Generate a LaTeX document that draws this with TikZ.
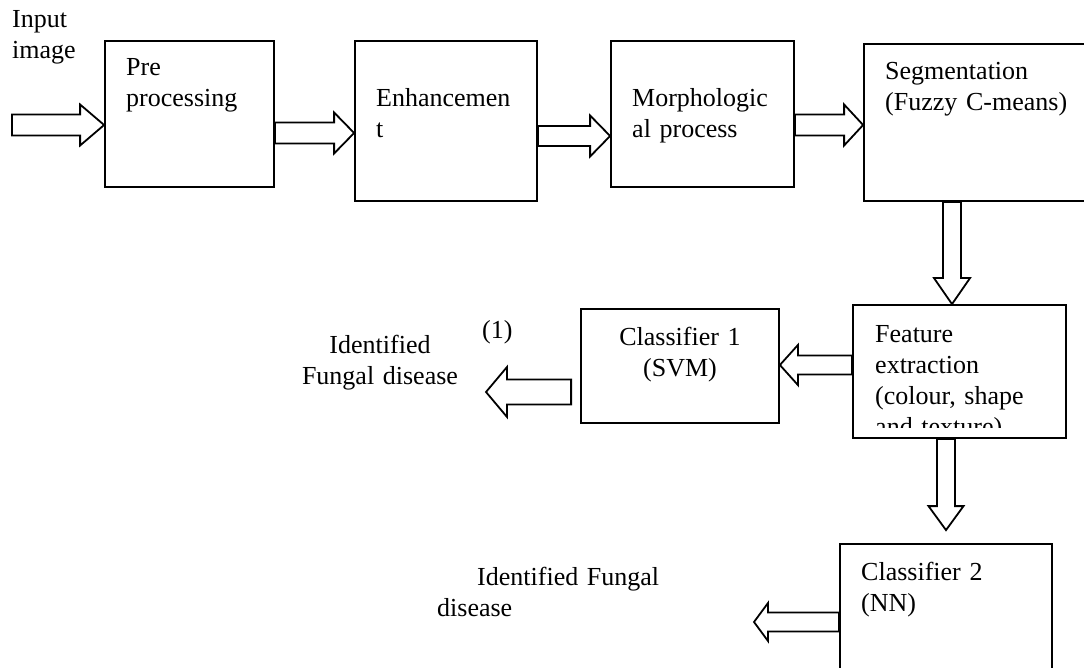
\documentclass[tikz,border=0pt]{standalone}
\usepackage{fontspec}
\setmainfont{Liberation Serif}
\usepackage{tikz}
\usetikzlibrary{calc}
\tikzstyle{box}=[draw,line width=1.8pt,inner sep=0pt]
\tikzstyle{txt}=[inner sep=0pt,text width=260pt,align=left,anchor=base west]
\tikzstyle{arrowshape}=[draw,line width=1.8pt,line join=miter]

\newcommand{\blockarr}[5]{%
  \draw[arrowshape] let \p1=(#1), \p2=(#2),
      \n1={veclen(\x2-\x1,\y2-\y1)}, \n2={atan2(\y2-\y1,\x2-\x1)} in
    [shift={(\p1)},rotate=\n2]
    (0pt,{-#3pt}) -- ({\n1-#5pt},{-#3pt}) -- ({\n1-#5pt},{-#4pt}) -- ({\n1+0pt},0pt)
    -- ({\n1-#5pt},{#4pt}) -- ({\n1-#5pt},{#3pt}) -- (0pt,{#3pt}) -- cycle;}

\begin{document}
\begin{tikzpicture}[x=1pt,y=-1pt,font=\fontsize{26}{31}\selectfont]
    \useasboundingbox (0,0) rectangle (1084,668);

    \node[box,minimum width=169,minimum height=146] (pre)   at (189.5,114) {};
    \node[box,minimum width=182,minimum height=160] (enh)   at (446,121)   {};
    \node[box,minimum width=183,minimum height=146] (morph) at (702.5,114) {};
    \node[box,minimum width=226,minimum height=157] (seg)   at (977,122.5) {};
    \node[box,minimum width=213,minimum height=133] (feat)  at (959.5,371.5) {};
    \node[box,minimum width=198,minimum height=114] (cls1)  at (680,366)   {};
    \node[box,minimum width=212,minimum height=156] (cls2)  at (946,622)   {};

    \node[txt] (inp)      at (12,28)   {Input\\image};
    \node[txt] (pretxt)   at (126,76)  {Pre\\processing};
    \node[txt] (enhtxt)   at (376,107) {Enhancemen\\t};
    \node[txt] (morphtxt) at (632,107) {Morphologic\\al process};
    \node[txt] (segtxt)   at (885,80)  {Segmentation\\(Fuzzy C-means)};
    \begin{scope}
      \clip ([yshift=11pt]feat.south west) rectangle (feat.north east);
      \node[txt] (feattxt) at (875,342) {Feature\\extraction\\(colour, shape\\and texture)};
    \end{scope}
    \node[txt,align=center,anchor=base,text width=198] (cls1txt) at (680,345) {Classifier 1\\(SVM)};
    \node[txt] (cls2txt)  at (861,580) {Classifier 2\\(NN)};
    \node[txt] (one)      at (482,338) {(1)};
    \node[txt,align=center,anchor=base,text width=200] (res1txt) at (380,353) {Identified\\Fungal disease};
    \node[txt] (res2txt)  at (437,585) {\hspace*{40pt}Identified Fungal\\disease};

    \coordinate (in)   at (12,125);
    \coordinate (res1) at (486,392);
    \coordinate (res2) at (754,622);

    \blockarr{in}{pre.west |- in}{10.5}{20.5}{24}
    \blockarr{$(pre.east)+(0,19)$}{$(enh.west)+(0,12)$}{10.5}{20.5}{20}
    \blockarr{$(enh.east)+(0,15)$}{$(morph.west)+(0,22)$}{10}{20.5}{20}
    \blockarr{$(morph.east)+(0,11)$}{$(seg.west)+(0,2.5)$}{10.5}{20.5}{19}
    \blockarr{$(seg.south)+(-25,0)$}{$(feat.north)+(-7.5,0)$}{9}{18}{26}
    \blockarr{$(feat.west)+(0,-6.5)$}{$(cls1.east)+(0,-1)$}{9.5}{20}{18}
    \blockarr{$(cls1.west)+(-9,26)$}{res1}{12.5}{25}{21}
    \blockarr{$(feat.south)+(-13.5,0)$}{$(cls2.north)+(0,-13)$}{9}{17.5}{24}
    \blockarr{cls2.west}{res2}{9.5}{19}{14}
\end{tikzpicture}
\end{document}
